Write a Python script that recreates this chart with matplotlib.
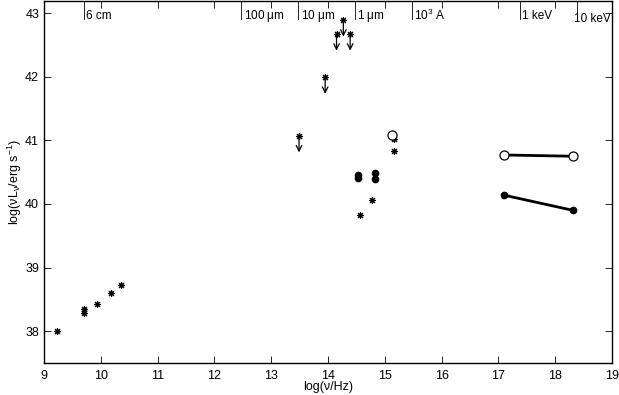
import numpy as np
import matplotlib
matplotlib.use('Agg')
from matplotlib import pyplot as plt

plt.rcParams['font.family'] = ['Liberation Sans', 'DejaVu Sans']
plt.rcParams['mathtext.fontset'] = 'custom'
plt.rcParams['mathtext.rm'] = 'Liberation Sans'
plt.rcParams['mathtext.it'] = 'Liberation Sans'

# detections (asterisks)
star_x = [9.23, 9.71, 9.71, 9.93, 10.18, 10.35, 14.56, 14.77, 15.17, 15.17]
star_y = [38.00, 38.35, 38.29, 38.42, 38.60, 38.73, 39.83, 40.06, 40.83, 41.02]

# upper limits
lim_x = [13.49, 13.95, 14.15, 14.27, 14.39]
lim_y = [41.07, 41.99, 42.67, 42.89, 42.67]

# filled dots
dot_x = [14.53, 14.53, 14.82, 14.82]
dot_y = [40.45, 40.41, 40.48, 40.39]

# open circle
open_x = [15.13]
open_y = [41.09]

# X-ray power laws
xray_x = [17.09, 18.31]
xray_open_y = [40.77, 40.75]
xray_fill_y = [40.14, 39.90]

# top axis: wavelengths / energies
c = 2.998e10  # cm/s
top_labels = ['6 cm', '100 $\\mu$m', '10 $\\mu$m', '1 $\\mu$m', '10$^3$ A', '1 keV', '10 keV']
top_freq = [c / 6.0, c / 100e-4, c / 10e-4, c / 1e-4, c / 1e-5,
            1.0 * 2.418e17, 10.0 * 2.418e17]

fig = plt.figure(figsize=(6.19, 3.95), dpi=100)
ax = fig.add_axes([44 / 619, 32 / 395, 568 / 619, 362 / 395])

ast = (8, 2, 0)
ax.plot(star_x, star_y, ls='none', marker=ast, ms=5, mew=0.8, color='k')
ax.plot(lim_x, lim_y, ls='none', marker=ast, ms=5, mew=0.8, color='k')
for x, y in zip(lim_x, lim_y):
    ax.annotate('', xy=(x, y - 0.26), xytext=(x, y),
                arrowprops=dict(arrowstyle='->', color='k', lw=0.9,
                                mutation_scale=10, shrinkA=0, shrinkB=0))
ax.plot(dot_x, dot_y, ls='none', marker='o', ms=4.5, color='k')
ax.plot(open_x, open_y, ls='none', marker='o', ms=6.5, mfc='white', mec='k', mew=0.9)
ax.plot(xray_x, xray_open_y, '-', color='k', lw=2, marker='o', ms=6.5,
        mfc='white', mec='k', mew=0.9)
ax.plot(xray_x, xray_fill_y, '-', color='k', lw=2, marker='o', ms=4.5)

ax.set_xlim(9, 19)
ax.set_ylim(37.5, 43.19)
ax.set_xticks(range(9, 20))
ax.set_yticks(range(38, 44))
ax.tick_params(direction='in', length=5, width=0.6, labelsize=9,
               top=True, right=True)
ax.tick_params(axis='x', pad=5)
for s in ax.spines.values():
    s.set_linewidth(1.0)
ax.set_xlabel('log(\u03bd/Hz)', fontsize=9, labelpad=-1)
ax.set_ylabel('log(\u03bdL$_{\u03bd}$/erg s$^{-1}$)', fontsize=9, labelpad=1)

for lab, f in zip(top_labels, top_freq):
    lx = np.log10(f)
    ax.plot([lx, lx], [43.19, 42.9], color='k', lw=0.6, clip_on=False)
    dx, dy = 0.04, 42.96
    if lab == '10 keV':
        dx, dy = -0.05, 42.9
    ax.text(lx + dx, dy, lab, fontsize=8.5, ha='left', va='center')

fig.savefig('out.png', dpi=100)
